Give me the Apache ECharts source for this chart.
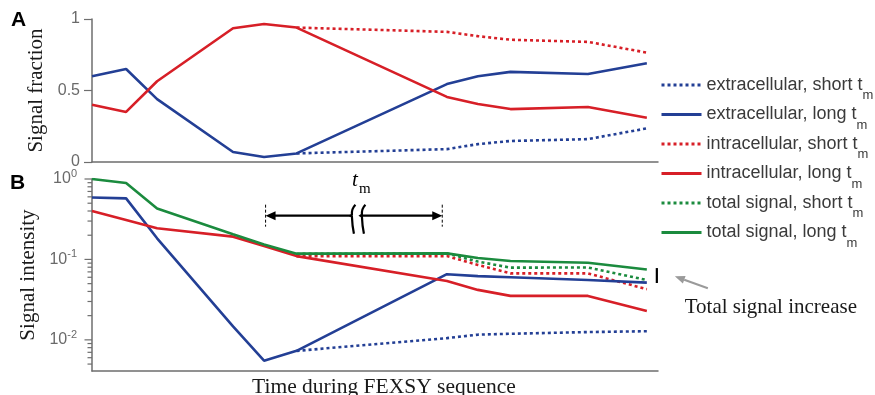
<!DOCTYPE html>
<html><head><meta charset="utf-8">
<script src="https://cdn.jsdelivr.net/npm/echarts@6/dist/echarts.min.js"></script>
<style>html,body{margin:0;padding:0;background:#fff}#c{width:875px;height:395px}</style>
</head><body><div id="c"></div>
<script>
// ---- data ----
const time = [0, 1.1, 2.1, 4.55, 5.55, 6.6, 11.45, 12.45, 13.5, 16, 17.9];
const timeMax = 18.26;
const shortStart = 5; // short-tm branches start at this time index

// Panel A: signal fraction
const extraLongA  = [0.60, 0.65, 0.44, 0.07, 0.035, 0.06, 0.545, 0.60, 0.63, 0.615, 0.69];
const intraLongA  = [0.40, 0.35, 0.565, 0.935, 0.965, 0.94, 0.455, 0.405, 0.37, 0.385, 0.31];
const extraShortA = [0.06, 0.09, 0.125, 0.147, 0.16, 0.235];
const intraShortA = [0.94, 0.91, 0.88, 0.855, 0.84, 0.765];

// Panel B: signal intensity
const extraLongB  = [0.59, 0.575, 0.183, 0.0147, 0.0055, 0.0073, 0.0655, 0.062, 0.060, 0.0556, 0.0515];
const intraLongB  = [0.40, 0.31, 0.244, 0.192, 0.147, 0.11, 0.054, 0.0418, 0.0352, 0.0352, 0.0229];
const totalLongB  = [1.0, 0.89, 0.43, 0.206, 0.153, 0.118, 0.119, 0.104, 0.0955, 0.091, 0.0748];
const extraShortB = [0.0073, 0.0105, 0.0116, 0.0119, 0.0125, 0.0128];
const intraShortB = [0.11, 0.11, 0.0855, 0.067, 0.067, 0.0427];
const totalShortB = [0.117, 0.119, 0.094, 0.079, 0.0795, 0.0555];

const yTicksA = [0, 0.5, 1];
const yMinB = 0.0041, yMaxB = 1;
const ticksB = [1, 0.9, 0.8, 0.7, 0.6, 0.5, 0.4, 0.3, 0.2,
                0.1, 0.09, 0.08, 0.07, 0.06, 0.05, 0.04, 0.03, 0.02,
                0.01, 0.009, 0.008, 0.007, 0.006, 0.005];
const tmSpan = [5.6, 11.3];
const tmLevel = 0.35;

const names = ['extracellular, short t_m', 'extracellular, long t_m',
               'intracellular, short t_m', 'intracellular, long t_m',
               'total signal, short t_m', 'total signal, long t_m'];

// ---- styles ----
const BLUE = '#233f95', RED = '#d71f27', GREEN = '#1b8b3e';
const AX = '#6e6e6e';
const SANS = 'Liberation Sans', SERIF = 'Liberation Serif';

function pairs(ts, vs) { return vs.map((v, i) => [ts[i], v]); }
function line(name, gi, ts, vs, color, dotted, z) {
  return {
    type: 'line', name, xAxisIndex: gi, yAxisIndex: gi,
    data: pairs(ts, vs), symbol: 'none', showSymbol: false, animation: false,
    lineStyle: { color, width: 2.6, type: dotted ? [3, 3] : 'solid', cap: 'butt' },
    itemStyle: { color }, z
  };
}
const tShort = time.slice(shortStart);

const chart = echarts.init(document.getElementById('c'), null, { renderer: 'canvas' });

const xAxisBase = {
  type: 'value', min: 0, max: timeMax,
  axisLine: { show: true, onZero: false, lineStyle: { color: AX, width: 1.5 } },
  axisTick: { show: false }, axisLabel: { show: false }, splitLine: { show: false }
};

const option = {
  animation: false,
  title: [
    { text: 'A', left: 11, top: 10, padding: 0, textStyle: { fontFamily: SANS, fontSize: 21, fontWeight: 'bold', color: '#000' } },
    { text: 'B', left: 10, top: 173, padding: 0, textStyle: { fontFamily: SANS, fontSize: 21, fontWeight: 'bold', color: '#000' } }
  ],
  grid: [
    { left: 92, top: 19, width: 566, height: 143, outerBoundsMode: 'none', containLabel: false },
    { left: 92, top: 179, width: 566, height: 192, outerBoundsMode: 'none', containLabel: false }
  ],
  xAxis: [
    Object.assign({ gridIndex: 0 }, xAxisBase),
    Object.assign({ gridIndex: 1, name: 'Time during FEXSY sequence', nameLocation: 'middle', nameGap: 5,
      nameTextStyle: { fontFamily: SERIF, fontSize: 21.5, color: '#1a1a1a', verticalAlign: 'top', padding: [0, 0, 0, 18] } }, xAxisBase)
  ],
  yAxis: [
    { gridIndex: 0, type: 'value', min: yTicksA[0], max: yTicksA[2], interval: yTicksA[1] - yTicksA[0],
      name: 'Signal fraction', nameLocation: 'middle', nameGap: 44,
      nameTextStyle: { fontFamily: SERIF, fontSize: 21, color: '#1a1a1a' },
      axisLine: { show: true, onZero: false, lineStyle: { color: AX, width: 1.5 } },
      axisTick: { show: true, length: 8, lineStyle: { color: AX, width: 1.2 } },
      axisLabel: { color: '#6a6a6a', fontFamily: SANS, fontSize: 16, margin: 12 },
      splitLine: { show: false } },
    { gridIndex: 1, type: 'log', logBase: 10, min: yMinB, max: yMaxB,
      name: 'Signal intensity', nameLocation: 'middle', nameGap: 44,
      nameTextStyle: { fontFamily: SERIF, fontSize: 21, color: '#1a1a1a' },
      axisLine: { show: true, onZero: false, lineStyle: { color: AX, width: 1.5 } },
      axisTick: { show: false },
      axisLabel: {
        margin: 15, color: '#6a6a6a', fontFamily: SANS,
        formatter: v => {
          const lg = Math.log10(v), e = Math.round(lg);
          if (Math.abs(lg - e) > 1e-6) return '';
          return '{b|10}{s|' + e + '}';
        },
        rich: {
          b: { fontSize: 16, lineHeight: 20, color: '#6a6a6a', fontFamily: SANS },
          s: { fontSize: 11, lineHeight: 10, padding: [0, 0, 10, 0], color: '#6a6a6a', fontFamily: SANS }
        }
      },
      splitLine: { show: false } }
  ],
  legend: {
    orient: 'vertical', left: 660, top: 68, padding: 0,
    itemWidth: 40, itemHeight: 12, itemGap: -4.5, selectedMode: false,
    data: names,
    lineStyle: { width: 3 },
    itemStyle: { color: 'rgba(0,0,0,0)', borderWidth: 0, opacity: 0 },
    formatter: n => '{a|' + n.split('_')[0] + '}{s|' + n.split('_')[1] + '}',
    textStyle: {
      fontFamily: SANS, fontSize: 18, color: '#3a3a3a',
      rich: {
        a: { fontFamily: SANS, fontSize: 18, lineHeight: 18, color: '#3a3a3a' },
        s: { fontFamily: SANS, fontSize: 13, lineHeight: 8, padding: [21, 0, 0, 0], color: '#3a3a3a' }
      }
    }
  },
  series: [
    // Panel A
    line(names[0], 0, tShort, extraShortA, BLUE, true, 2),
    line(names[1], 0, time, extraLongA, BLUE, false, 3),
    line(names[2], 0, tShort, intraShortA, RED, true, 2),
    line(names[3], 0, time, intraLongA, RED, false, 3),
    // Panel B
    line(names[0], 1, tShort, extraShortB, BLUE, true, 2),
    line(names[1], 1, time, extraLongB, BLUE, false, 3),
    line(names[2], 1, tShort, intraShortB, RED, true, 2),
    line(names[3], 1, time, intraLongB, RED, false, 3),
    line(names[4], 1, tShort, totalShortB, GREEN, true, 2),
    line(names[5], 1, time, totalLongB, GREEN, false, 4),
    // log-axis ticks (major + minor)
    {
      type: 'custom', xAxisIndex: 1, yAxisIndex: 1, silent: true, z: 5, clip: false,
      data: ticksB.map(v => [0, v]),
      renderItem: (params, api) => {
        const v = api.value(1);
        const p = api.coord([api.value(0), v]);
        const lg = Math.log10(v);
        const len = Math.abs(lg - Math.round(lg)) < 1e-6 ? 7.5 : 4.5;
        return { type: 'line', shape: { x1: p[0] - len, y1: p[1], x2: p[0], y2: p[1] },
                 style: { stroke: AX, lineWidth: 1.2 } };
      }
    },
    // t_m annotation
    {
      type: 'custom', xAxisIndex: 1, yAxisIndex: 1, silent: true, z: 6, clip: false,
      data: [[tmSpan[0], tmLevel, tmSpan[1]]],
      renderItem: (params, api) => {
        const a = api.coord([api.value(0), api.value(1)]);
        const b = api.coord([api.value(2), api.value(1)]);
        const y = a[1];
        const xm = (a[0] + b[0]) / 2;
        const c1 = xm - 2, c2 = xm + 8;
        const brk = cx => ({
          type: 'path',
          shape: { pathData: `M${cx + 3.5} ${y - 11} Q${cx - 0.5} ${y - 7} ${cx} ${y - 1} L${cx - 1.5} ${y} L${cx} ${y + 1} Q${cx + 0.3} ${y + 10} ${cx + 2} ${y + 18}` },
          style: { stroke: '#000', fill: null, lineWidth: 2.2 }
        });
        return {
          type: 'group',
          children: [
            { type: 'line', shape: { x1: a[0], y1: y - 11, x2: a[0], y2: y + 11 }, style: { stroke: '#000', lineWidth: 1, lineDash: [3, 2] } },
            { type: 'line', shape: { x1: b[0], y1: y - 11, x2: b[0], y2: y + 11 }, style: { stroke: '#000', lineWidth: 1, lineDash: [3, 2] } },
            { type: 'line', shape: { x1: a[0] + 6, y1: y, x2: c1 - 1.5, y2: y }, style: { stroke: '#000', lineWidth: 2.2 } },
            { type: 'line', shape: { x1: c2, y1: y, x2: b[0] - 6, y2: y }, style: { stroke: '#000', lineWidth: 2.2 } },
            { type: 'polygon', shape: { points: [[a[0], y], [a[0] + 10, y - 4.5], [a[0] + 10, y + 4.5]] }, style: { fill: '#000' } },
            { type: 'polygon', shape: { points: [[b[0], y], [b[0] - 10, y - 4.5], [b[0] - 10, y + 4.5]] }, style: { fill: '#000' } },
            brk(c1), brk(c2),
            { type: 'text', style: { text: 't', x: xm + 1, y: y - 35, align: 'center', verticalAlign: 'middle',
              font: 'italic 21px "Liberation Serif"', fill: '#000' } },
            { type: 'text', style: { text: 'm', x: xm + 5, y: y - 27, align: 'left', verticalAlign: 'middle',
              font: '15px "Liberation Serif"', fill: '#000' } }
          ]
        };
      }
    },
    // total signal increase marker
    {
      type: 'custom', xAxisIndex: 1, yAxisIndex: 1, silent: true, z: 6, clip: false,
      data: [[time[time.length - 1], totalLongB[totalLongB.length - 1], totalShortB[totalShortB.length - 1]]],
      renderItem: (params, api) => {
        const p1 = api.coord([api.value(0), api.value(1)]);
        const p2 = api.coord([api.value(0), api.value(2)]);
        const x = p1[0] + 10;
        const yc = (p1[1] + p2[1]) / 2;
        const hx = x + 18, hy = yc + 1.5, tx = x + 51, ty = yc + 13.5;
        const dx = hx - tx, dy = hy - ty, L = Math.hypot(dx, dy), ux = dx / L, uy = dy / L;
        const bx = hx - ux * 10, by = hy - uy * 10;
        return {
          type: 'group',
          children: [
            { type: 'line', shape: { x1: x, y1: p1[1] - 1.5, x2: x, y2: p2[1] + 3 }, style: { stroke: '#000', lineWidth: 2.2 } },
            { type: 'line', shape: { x1: tx, y1: ty, x2: bx, y2: by }, style: { stroke: '#9a9a9a', lineWidth: 2 } },
            { type: 'polygon', shape: { points: [[hx, hy], [bx - uy * 4, by + ux * 4], [bx + uy * 4, by - ux * 4]] }, style: { fill: '#9a9a9a' } },
            { type: 'text', style: { text: 'Total signal increase', x: x + 114, y: yc + 33, align: 'center', verticalAlign: 'middle',
              font: '21px "Liberation Serif"', fill: '#1a1a1a' } }
          ]
        };
      }
    }
  ]
};
chart.setOption(option);
</script>
</body></html>
